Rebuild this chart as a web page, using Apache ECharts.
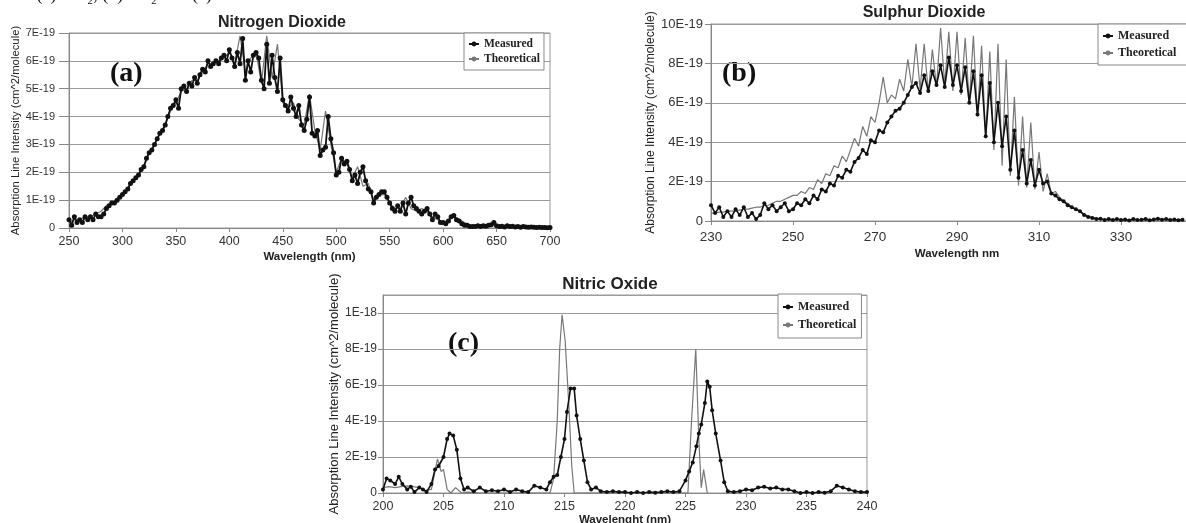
<!DOCTYPE html>
<html><head><meta charset="utf-8">
<script src="https://cdn.jsdelivr.net/npm/echarts@6/dist/echarts.min.js"></script>
<style>html,body{margin:0;padding:0;background:#fff}#c{width:1186px;height:523px}</style>
</head><body><div id="c"></div><script>
// ---------- DATA (values in units of 1E-19 cm^2/molecule) ----------
// (a) Nitrogen dioxide, measured: 250..700 nm every 2.5 nm
const no2MeasStart = 250, no2MeasStep = 2.5;
const no2Measured = [
 0.3,0.1,0.4,0.2,0.3,0.2,0.4,0.3,0.4,0.3,
 0.5,0.4,0.4,0.5,0.7,0.8,0.9,0.9,1.0,1.1,
 1.2,1.3,1.4,1.6,1.7,1.8,1.9,2.1,2.2,2.5,
 2.7,2.8,3.0,3.2,3.4,3.5,3.7,4.0,4.3,4.4,
 4.6,4.3,5.0,5.1,4.9,5.2,5.1,5.4,5.2,5.5,
 5.7,5.6,6.0,5.8,5.9,6.0,5.9,6.1,6.2,6.0,
 6.4,6.1,5.8,6.3,5.9,6.8,5.3,6.0,5.6,6.2,
 6.3,6.1,5.3,5.0,6.6,5.2,6.2,5.4,4.9,6.1,
 4.6,4.4,4.2,4.7,4.3,4.0,4.4,3.7,3.5,3.9,
 4.7,3.4,3.3,3.5,2.6,2.8,2.9,4.0,3.2,2.7,
 1.9,2.0,2.5,2.3,2.4,2.1,1.7,1.9,1.6,2.0,
 2.2,1.7,1.4,1.3,0.9,1.1,1.2,1.3,1.3,1.1,
 0.9,0.7,0.6,0.8,0.6,0.9,0.5,0.9,1.1,0.8,
 0.7,0.6,0.5,0.6,0.7,0.5,0.3,0.5,0.4,0.2,
 0.2,0.15,0.25,0.4,0.45,0.3,0.25,0.15,0.1,0.1,
 0.05,0.05,0.05,0.08,0.05,0.08,0.06,0.1,0.12,0.2,
 0.08,0.05,0.06,0.04,0.08,0.05,0.06,0.04,0.05,0.03,
 0.05,0.04,0.03,0.04,0.03,0.02,0.03,0.02,0.02,0.01,
 0.02
];
// (a) theoretical: 250..700 nm every 5 nm
const no2TheoStart = 250, no2TheoStep = 5;
const no2Theoretical = [
 0.2,0.3,0.3,0.4,0.4,0.5,0.6,0.8,0.9,1.05,
 1.2,1.4,1.7,1.9,2.2,2.7,3.0,3.4,3.7,4.2,
 4.5,4.9,5.0,5.3,5.3,5.6,5.9,5.9,6.0,6.1,
 6.3,5.9,6.9,5.6,6.1,6.3,5.2,6.9,5.4,6.6,
 4.5,4.3,4.5,3.9,3.7,4.8,3.5,2.8,4.2,3.0,
 2.0,2.5,2.3,1.8,2.2,1.5,1.6,1.0,1.2,1.2,
 0.9,0.7,0.7,1.1,0.7,0.6,0.7,0.6,0.4,0.3,
 0.2,0.3,0.4,0.3,0.2,0.1,0.05,0.05,0.05,0.1,
 0.1,0.05,0.05,0.05,0.05,0.03,0.03,0.02,0.02,0.02,
 0.02
];
// (b) Sulphur dioxide: 230..345 nm every 1 nm
const so2Start = 230, so2Step = 1;
const so2Measured = [
 0.8,0.4,0.7,0.2,0.5,0.2,0.6,0.3,0.7,0.2,
 0.4,0.1,0.3,0.9,0.6,0.8,0.5,0.7,0.9,0.5,
 0.6,0.9,0.8,1.1,0.9,1.3,1.1,1.6,1.5,1.9,
 1.8,2.3,2.2,2.6,2.5,3.0,3.2,3.6,3.4,4.1,
 4.0,4.6,4.5,5.0,5.3,5.6,5.7,6.0,6.4,6.8,
 7.0,6.5,7.4,6.6,7.6,6.9,7.9,6.8,8.3,6.9,
 7.9,6.6,7.8,6.0,7.6,5.4,7.4,4.3,7.0,4.0,
 6.0,3.8,5.3,2.6,4.6,2.2,3.6,1.9,3.1,1.8,
 2.6,1.9,2.0,1.4,1.3,1.1,1.0,0.8,0.7,0.6,
 0.5,0.3,0.2,0.15,0.1,0.12,0.05,0.1,0.05,0.1,
 0.05,0.08,0.03,0.1,0.05,0.06,0.1,0.04,0.08,0.12,
 0.06,0.1,0.05,0.08,0.04,0.06
];
const so2Theoretical = [
 0.4,0.4,0.45,0.45,0.5,0.5,0.5,0.55,0.6,0.6,
 0.65,0.7,0.7,0.8,0.8,0.9,1.0,1.0,1.1,1.2,
 1.3,1.3,1.5,1.4,1.7,1.6,2.1,1.9,2.4,2.3,
 2.8,2.7,3.3,3.0,3.6,4.2,3.8,4.8,4.3,5.3,
 5.0,6.0,7.3,6.0,6.4,6.2,7.2,6.6,8.2,6.8,
 9.0,6.7,9.0,6.5,8.7,6.8,9.8,6.9,9.6,6.6,
 9.6,6.4,9.3,6.0,9.4,5.3,8.9,4.2,8.6,3.6,
 9.0,2.8,8.2,2.3,6.3,1.8,5.3,1.7,5.0,1.6,
 3.5,1.5,2.4,1.4,1.5,1.2,1.0,0.9,0.7,0.6,
 0.5,0.35,0.25,0.2,0.15,0.1,0.08,0.06,0.05,0.05,
 0.05,0.05,0.05,0.05,0.05,0.05,0.05,0.05,0.05,0.05,
 0.05,0.05,0.05,0.05,0.05,0.05
];
// (c) Nitric oxide: [wavelength nm, intensity]
const noMeasured = [
 [200,0.2],[200.3,0.8],[200.6,0.7],[201,0.5],[201.3,0.9],[201.6,0.5],[202,0.2],[202.3,0.35],[202.6,0.05],[203,0.3],
 [203.3,0.2],[203.6,0.05],[204,0.5],[204.3,1.3],[204.6,1.5],[205,2.0],[205.3,3.0],[205.5,3.3],[205.8,3.2],[206.1,2.4],
 [206.4,0.8],[206.7,0.2],[207,0.3],[207.5,0.1],[208,0.3],[208.5,0.1],[209,0.15],[209.5,0.1],[210,0.2],[210.5,0.05],
 [211,0.2],[211.5,0.1],[212,0.05],[212.5,0.4],[213,0.3],[213.5,0.2],[213.8,0.6],[214.1,0.9],[214.4,1.0],[214.7,2.0],
 [215,3.0],[215.2,4.5],[215.5,5.8],[215.8,5.8],[216,4.3],[216.3,3.0],[216.6,1.8],[216.9,0.6],[217.2,0.2],[217.6,0.3],
 [218,0.1],[218.5,0.05],[219,0.1],[219.5,0.05],[220,0.05],[220.5,0.0],[221,0.05],[221.5,0.0],[222,0.05],[222.5,0.02],
 [223,0.05],[223.5,0.1],[224,0.05],[224.5,0.1],[225,0.7],[225.3,1.2],[225.6,1.7],[225.9,2.6],[226.1,3.3],[226.3,3.8],
 [226.6,5.0],[226.8,6.2],[227,5.9],[227.2,4.6],[227.5,3.3],[227.9,1.8],[228.2,0.6],[228.5,0.1],[229,0.05],[229.5,0.1],
 [230,0.2],[230.5,0.15],[231,0.3],[231.5,0.35],[232,0.25],[232.5,0.3],[233,0.2],[233.5,0.2],[234,0.1],[234.5,0.0],
 [235,0.05],[235.5,0.0],[236,0.05],[236.5,0.02],[237,0.1],[237.5,0.4],[238,0.3],[238.5,0.2],[239,0.1],[239.5,0.05],
 [240,0.05]
];
const noTheoretical = [
 [200,0.3],[200.5,0.35],[201,0.3],[201.5,0.35],[202,0.4],[202.5,0.35],[203,0.3],[203.5,0.15],[204,0.2],[204.5,1.9],
 [204.8,1.2],[205,1.3],[205.3,0.2],[205.6,0.0],[206,0.3],[206.5,0.0],[207,0.05],[208,0.0],[210,0.0],[212,0.0],
 [213.8,0.0],[214.1,0.8],[214.4,4.0],[214.6,8.0],[214.8,9.9],[215.05,8.5],[215.35,5.0],[215.6,1.5],[215.8,0.0],[218,0.0],
 [222,0.0],[225.2,0.0],[225.5,4.0],[225.85,8.0],[226.1,3.0],[226.3,0.3],[226.5,1.3],[226.8,0.0]
];
// tick values
const so2XTicks = [230,250,270,290,310,330,350];
const titles = ['Nitrogen Dioxide','Sulphur Dioxide','Nitric Oxide'];
const xNames = ['Wavelength (nm)','Wavelength nm','Wavelenght (nm)'];
const yName = 'Absorption Line Intensity (cm^2/molecule)';
const legendNames = ['Measured','Theoretical'];

// ---------- CHART ----------
const SANS = 'Arial, "Liberation Sans", sans-serif';
const SERIF = '"Times New Roman", "Liberation Serif", serif';
const seq = (start, step, arr) => arr.map((v, i) => [start + i * step, v]);
const fmt19 = v => v === 0 ? '0' : (v >= 10 && v % 10 === 0 ? (v / 10) + 'E-18' : v + 'E-19');
const fmt19b = v => v === 0 ? '0' : v + 'E-19';

function xAxis(i, min, max, interval, ticks, fs, margin, nameGap) {
  const a = {
    gridIndex: i, type: 'value', min, max, interval,
    name: xNames[i], nameLocation: 'middle', nameGap,
    nameTextStyle: { fontFamily: SANS, fontWeight: 'bold', fontSize: 11.5, color: '#222' },
    axisLine: { show: true, onZero: false, lineStyle: { color: '#888', width: 1 } },
    axisTick: { show: true, length: 4, lineStyle: { color: '#888' } },
    splitLine: { show: false },
    axisLabel: { fontFamily: SANS, fontSize: fs, color: '#333', margin, hideOverlap: false }
  };
  if (ticks) { a.axisLabel.customValues = ticks; a.axisTick.customValues = ticks; }
  return a;
}
function yAxis(i, max, interval, fs, margin, tickLen, nameGap, nfs, formatter) {
  return {
    gridIndex: i, type: 'value', min: 0, max, interval,
    name: yName, nameLocation: 'middle', nameGap, nameRotate: 90,
    nameTextStyle: { fontFamily: SANS, fontSize: nfs, color: '#222' },
    axisLine: { show: true, lineStyle: { color: '#888', width: 1 } },
    axisTick: { show: true, length: tickLen, lineStyle: { color: '#888' } },
    splitLine: { show: true, lineStyle: { color: '#9a9a9a', width: 1 } },
    axisLabel: { fontFamily: SANS, fontSize: fs, color: '#333', margin, formatter, showMaxLabel: max % interval === 0 }
  };
}
function measured(i, data, size, width) {
  return { name: 'Measured', type: 'line', xAxisIndex: i, yAxisIndex: i, data,
    symbol: 'circle', symbolSize: size, showSymbol: true,
    lineStyle: { color: '#111', width }, itemStyle: { color: '#111' }, z: 4 };
}
function theoretical(i, data) {
  return { name: 'Theoretical', type: 'line', xAxisIndex: i, yAxisIndex: i, data,
    symbol: 'none', lineStyle: { color: '#777', width: 1.2 }, itemStyle: { color: '#777' }, z: 3 };
}
function legend(left, top, padding, gap, fs) {
  return { left, top, orient: 'vertical', itemWidth: 10, itemHeight: 6, itemGap: gap, padding,
    borderColor: '#888', borderWidth: 1, backgroundColor: '#fff', borderRadius: 0,
    textStyle: { fontFamily: SERIF, fontWeight: 'bold', fontSize: fs, color: '#222' },
    data: legendNames, selectedMode: false };
}
function titleOpt(text, x, y, fs) {
  return { text, left: x, top: y, textAlign: 'center', padding: 0,
    textStyle: { fontFamily: SANS, fontWeight: 'bold', fontSize: fs, color: '#222' } };
}
function tag(text, x, y, fs) {
  return { type: 'text', left: x, top: y, style: { text, font: 'bold ' + fs + 'px ' + SERIF, fill: '#111' } };
}
function grid(left, top, width, height) {
  return { left, top, width, height, show: true, borderColor: '#999', borderWidth: 1,
    backgroundColor: '#fff', containLabel: false, outerBoundsMode: 'none' };
}

const chart = echarts.init(document.getElementById('c'), null, { renderer: 'canvas' });
chart.setOption({
  animation: false,
  backgroundColor: '#fff',
  title: [
    titleOpt(titles[0], 282, 15, 16),
    titleOpt(titles[1], 924, 5, 16),
    titleOpt(titles[2], 610, 276, 17)
  ],
  grid: [
    grid(69, 33, 481, 195),
    grid(711, 24, 492, 197),
    grid(383, 295, 484, 198)
  ],
  xAxis: [
    xAxis(0, 250, 700, 50, null, 12.5, 7, 23),
    xAxis(1, 230, 350, 20, so2XTicks, 13.5, 9, 27),
    xAxis(2, 200, 240, 5, null, 12.5, 7, 16)
  ],
  yAxis: [
    yAxis(0, 7, 1, 11, 14, 10, 46, 11.3, fmt19b),
    yAxis(1, 10, 2, 13, 8, 6, 53, 12, fmt19b),
    yAxis(2, 11, 2, 12, 6, 5, 42, 13, fmt19)
  ],
  legend: [
    legend(464, 33, [5, 4, 5, 4], 3, 11.5),
    legend(1098, 24, [6, 30, 6, 4], 5, 12),
    legend(778, 294, [7, 5, 7, 4], 6, 12)
  ],
  graphic: [
    { type: 'text', left: 11, top: -14, style: { text: 'for (a) NO\u2082, (b) SO\u2082 and (c) NO.', font: '18px ' + SERIF, fill: '#111' } },
    tag('(a)', 110, 60, 28),
    tag('(b)', 722, 60, 28),
    tag('(c)', 448, 330, 28)
  ],
  series: [
    theoretical(0, seq(no2TheoStart, no2TheoStep, no2Theoretical)),
    measured(0, seq(no2MeasStart, no2MeasStep, no2Measured), 5, 1.8),
    theoretical(1, seq(so2Start, so2Step, so2Theoretical)),
    measured(1, seq(so2Start, so2Step, so2Measured), 4, 1.6),
    theoretical(2, noTheoretical),
    measured(2, noMeasured, 4, 1.6)
  ]
});
</script></body></html>
